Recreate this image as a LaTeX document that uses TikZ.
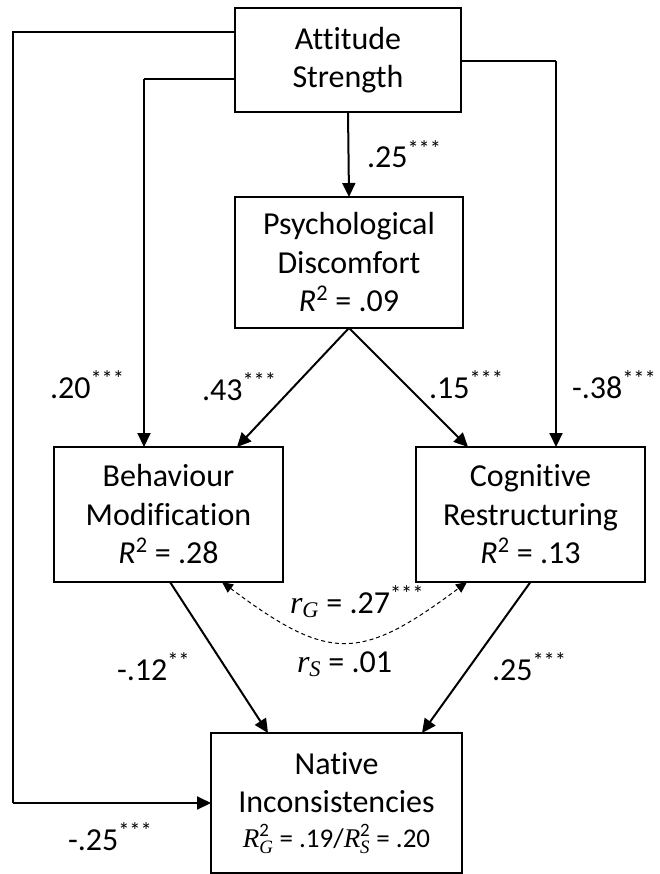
\RequirePackage{fix-cm}
\documentclass[tikz,border=0pt]{standalone}
\usepackage{amsmath}
\usepackage{fontspec}
\setmainfont{Carlito}[Ligatures={NoCommon}]
\newfontfamily\cmath{Liberation Serif}
\newcommand{\mvar}[1]{\text{\cmath\itshape #1}}
\usetikzlibrary{arrows.meta}

\begin{document}
\begin{tikzpicture}[x=1pt,y=1pt,yscale=-1,inner sep=0pt,outer sep=0pt,
  font=\fontsize{32}{38.5}\selectfont,
  box/.style={draw=black,line width=2.2pt,align=center},
  arr/.style={line width=2pt,-{Triangle[length=14pt,width=13pt]}},
  link/.style={line width=1.2pt},
  corr/.style={line width=1pt,dash pattern=on 4pt off 3pt,
    {Triangle[length=11pt,width=10pt]}-{Triangle[length=11pt,width=10pt]}},
  lbl/.style={anchor=base west}]
  \useasboundingbox (0,0) rectangle (659,874);
  % boxes
  \node[box,minimum width=226pt,minimum height=104pt] (att) at (348,60)
    {Attitude\\Strength};
  \node[box,minimum width=228pt,minimum height=131pt] (psy) at (349,262.5)
    {Psychological\\Discomfort\\\textit{R}\textsuperscript{2} = .09};
  \node[box,minimum width=229pt,minimum height=135pt] (beh) at (168.5,514.5)
    {Behaviour\\Modification\\\textit{R}\textsuperscript{2} = .28};
  \node[box,minimum width=229pt,minimum height=135pt] (cog) at (530.5,514.5)
    {Cognitive\\Restructuring\\\textit{R}\textsuperscript{2} = .13};
  \node[box,minimum width=251pt,minimum height=140pt] (nat) at (336.5,803)
    {Native\\Inconsistencies\\[-4pt]{\fontsize{27}{32}\selectfont
    $\mvar{R}^{\text{2}}_{\mvar{G}}$ = .19/$\mvar{R}^{\text{2}}_{\mvar{S}}$ = .20}};
  % corners of the side paths
  \coordinate (outtop) at (13,32);
  \coordinate (outbot) at (13,803);
  \coordinate (inl) at (144,79);
  \coordinate (inr) at (556,61);
  % paths
  \draw[arr] (att.south) -- (psy.north);
  \draw[link] (att.west |- inl) -- (inl);
  \draw[arr] (inl) -- (beh.north -| inl);
  \draw[link] (att.east |- inr) -- (inr);
  \draw[arr] (inr) -- (cog.north -| inr);
  \draw[link] (att.west |- outtop) -- (outtop) -- (outbot);
  \draw[arr] (outbot) -- (nat.west |- outbot);
  \draw[arr] (psy.south) -- ([xshift=68.5pt]beh.north);
  \draw[arr] (psy.south) -- ([xshift=-62.5pt]cog.north);
  \draw[arr] ([xshift=1.5pt]beh.south) -- ([xshift=-68.5pt]nat.north);
  \draw[arr] (cog.south) -- ([xshift=85.5pt]nat.north);
  \draw[corr] ([xshift=53.5pt]beh.south) .. controls +(107,80) and +(-107,80)
    .. ([xshift=-63.5pt]cog.south);
  % coefficients
  \node[lbl] (l25a) at (367,168) {.25\textsuperscript{***}};
  \node[lbl] (l20) at (50,398) {.20\textsuperscript{***}};
  \node[lbl] (l43) at (202,400) {.43\textsuperscript{***}};
  \node[lbl] (l15) at (429,398) {.15\textsuperscript{***}};
  \node[lbl] (l38) at (572,398) {-.38\textsuperscript{***}};
  \node[lbl] (lrg) at (290,613) {$\mvar{r}_{\mvar{G}}$ = .27\textsuperscript{***}};
  \node[lbl] (lrs) at (297,672) {$\mvar{r}_{\mvar{S}}$ = .01};
  \node[lbl] (l12) at (117,680) {-.12\textsuperscript{**}};
  \node[lbl] (l25b) at (492,680) {.25\textsuperscript{***}};
  \node[lbl] (l25c) at (68,850) {-.25\textsuperscript{***}};
\end{tikzpicture}
\end{document}
